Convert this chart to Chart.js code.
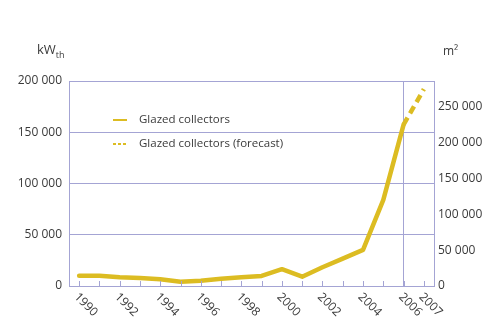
<!DOCTYPE html>
<html>
<head>
<meta charset="utf-8">
<script src="https://cdn.jsdelivr.net/npm/chart.js@4.4.1/dist/chart.umd.min.js"></script>
<style>
  html, body { margin: 0; padding: 0; background: #fff; }
  #wrap { position: relative; width: 501px; height: 318px; }
</style>
</head>
<body>
<div id="wrap"><canvas id="grafico" width="501" height="318"></canvas></div>
<script>
// datos
const anios = ['1990', '1991', '1992', '1993', '1994', '1995', '1996', '1997', '1998',
  '1999', '2000', '2001', '2002', '2003', '2004', '2005', '2006', '2007'];
const aniosVisibles = ['1990', '1992', '1994', '1996', '1998', '2000', '2002', '2004', '2006', '2007'];
const colectores = [10000, 10000, 8500, 7800, 6500, 4200, 5200, 7100, 8500,
  9800, 16400, 9100, 18300, 26700, 35200, 84000, 157500, null];
const pronostico = [null, null, null, null, null, null, null, null, null,
  null, null, null, null, null, null, null, 157500, 192000];
const ticksKw = [0, 50000, 100000, 150000, 200000];
const ticksM2 = [0, 50000, 100000, 150000, 200000, 250000];
const etiquetas = ['Glazed collectors', 'Glazed collectors (forecast)'];

const AMARILLO = 'rgb(220,188,34)';
const LAVANDA = 'rgb(164,164,212)';
const TEXTO = '#3a3a3a';
const FUENTE = '"Open Sans", "DejaVu Sans", sans-serif';

const formato = v => String(v).replace(/\B(?=(\d{3})+(?!\d))/g, ' ');

const extras = {
  id: 'extras',
  afterDraw(chart) {
    const { ctx, chartArea, scales } = chart;
    const x = scales.x;
    ctx.save();

    // marcas del eje x
    ctx.strokeStyle = LAVANDA;
    ctx.lineWidth = 1;
    anios.forEach((a, i) => {
      const px = Math.round(x.getPixelForValue(i)) + 0.5;
      ctx.beginPath();
      ctx.moveTo(px, chartArea.bottom);
      ctx.lineTo(px, chartArea.bottom - 5);
      ctx.stroke();
    });

    // etiquetas giradas
    ctx.fillStyle = TEXTO;
    ctx.font = '12px ' + FUENTE;
    ctx.textAlign = 'left';
    ctx.textBaseline = 'middle';
    anios.forEach((a, i) => {
      if (!aniosVisibles.includes(a)) return;
      const px = x.getPixelForValue(i);
      ctx.save();
      ctx.translate(px - 3, chartArea.bottom + 9);
      ctx.rotate(Math.PI / 4);
      ctx.fillText(a, 0, 0);
      ctx.restore();
    });

    // titulos de ejes
    ctx.textBaseline = 'alphabetic';
    ctx.font = '13px ' + FUENTE;
    ctx.fillText('kW', 37, 54);
    const w = ctx.measureText('kW').width;
    ctx.font = '9px ' + FUENTE;
    ctx.fillText('th', 37 + w, 58);
    ctx.font = '12px ' + FUENTE;
    ctx.fillText('m²', 443, 55);

    // leyenda
    const filas = [120, 144];
    chart.data.datasets.forEach((ds, i) => {
      ctx.strokeStyle = ds.borderColor;
      ctx.lineWidth = 2;
      ctx.setLineDash(ds.borderDash.length ? [3, 2] : []);
      ctx.beginPath();
      ctx.moveTo(113, filas[i]);
      ctx.lineTo(127, filas[i]);
      ctx.stroke();
      ctx.setLineDash([]);
      ctx.fillStyle = TEXTO;
      ctx.font = '11.5px ' + FUENTE;
      ctx.textBaseline = 'middle';
      ctx.fillText(ds.label, 139, filas[i]);
    });
    ctx.restore();
  }
};

new Chart(document.getElementById('grafico'), {
  type: 'line',
  data: {
    labels: anios,
    datasets: [{
      label: etiquetas[0],
      data: colectores,
      borderColor: AMARILLO,
      borderWidth: 4.5,
      borderDash: [],
      borderJoinStyle: 'round',
      borderCapStyle: 'round',
      pointRadius: 0,
      tension: 0,
      yAxisID: 'y'
    }, {
      label: etiquetas[1],
      data: pronostico,
      borderColor: AMARILLO,
      borderWidth: 4.5,
      borderDash: [8, 5],
      pointRadius: 0,
      tension: 0,
      yAxisID: 'y'
    }]
  },
  options: {
    responsive: false,
    animation: false,
    layout: { padding: { top: 81, left: 0, right: 0, bottom: 0 } },
    plugins: { legend: { display: false }, tooltip: { enabled: false } },
    scales: {
      x: {
        type: 'category',
        offset: true,
        ticks: { display: false },
        grid: {
          drawTicks: false,
          color: c => (c.tick && c.tick.label === '2006') ? LAVANDA : 'transparent'
        },
        border: { color: LAVANDA },
        afterFit: s => { s.height = 32; }
      },
      y: {
        position: 'left',
        min: 0,
        max: 200000,
        afterBuildTicks: s => { s.ticks = ticksKw.map(v => ({ value: v })); },
        ticks: {
          autoSkip: false,
          callback: v => formato(v),
          color: TEXTO,
          font: { family: FUENTE, size: 12 },
          padding: 7
        },
        grid: { color: LAVANDA, drawTicks: false },
        border: { color: LAVANDA },
        afterFit: s => { s.width = 69; }
      },
      y2: {
        position: 'right',
        min: 0,
        max: 200000 / 0.7,
        afterBuildTicks: s => { s.ticks = ticksM2.map(v => ({ value: v })); },
        ticks: {
          autoSkip: false,
          callback: v => formato(v),
          color: TEXTO,
          font: { family: FUENTE, size: 12 },
          padding: 4
        },
        grid: { drawOnChartArea: false, drawTicks: false },
        border: { color: LAVANDA },
        afterFit: s => { s.width = 67; }
      }
    }
  },
  plugins: [extras]
});
</script>
</body>
</html>
